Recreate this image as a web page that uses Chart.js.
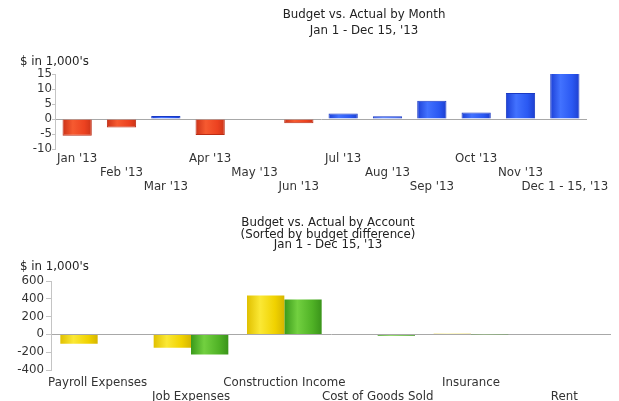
<!DOCTYPE html>
<html>
<head>
<meta charset="utf-8">
<script src="https://cdn.jsdelivr.net/npm/chart.js@4/dist/chart.umd.min.js"></script>
<style>
  body { margin:0; background:#fff; }
  .box { position:absolute; left:0; width:619px; }
</style>
</head>
<body>
<div class="box" style="top:0;height:200px"><canvas id="by_month" width="619" height="200"></canvas></div>
<div class="box" style="top:200px;height:201px"><canvas id="by_account" width="619" height="201"></canvas></div>
<script>
// --- data, $ in 1,000's ---
var monthLabels = ["Jan '13", "Feb '13", "Mar '13", "Apr '13", "May '13", "Jun '13",
                   "Jul '13", "Aug '13", "Sep '13", "Oct '13", "Nov '13", "Dec 1 - 15, '13"];
var monthDiff = [-5.6, -2.8, 1.0, -5.3, 0, -1.4, 1.8, 0.9, 6.1, 2.2, 8.7, 15.5];

var accountLabels = ["Payroll Expenses", "Job Expenses", "Construction Income",
                     "Cost of Goods Sold", "Insurance", "Rent"];
var accountBudget = [-105, -150, 438, 5, 8, -6];
var accountActual = [0, -225, 393, -15, -3, -8];

var monthTicks = [-10, -5, 0, 5, 10, 15];
var accountTicks = [-400, -200, 0, 200, 400, 600];

var FONT = '"DejaVu Sans", sans-serif';
var FSIZE = 11.8;
Chart.defaults.font.family = FONT;
Chart.defaults.font.size = FSIZE;
Chart.defaults.color = '#333';

// labels go on 2 or 3 rows so they dont overlap
function stagger(labels, rows){
	var out = [];
	for(var i=0;i<labels.length;i++){
		var l = [];
		for(var k=0;k<i%rows;k++){ l.push(''); }
		l.push(labels[i]);
		out.push(l);
	}
	return out;
}

// shaded bar fill, built on the bar's own width
function shade(ctx, stops, catPct, barPct, nsets){
	var chart = ctx.chart;
	var xs = chart.scales.x;
	if(!xs || !chart.chartArea){ return stops[1]; }
	var catW = xs.width / xs.getLabels().length;
	var groupW = catW * catPct;
	var barW = groupW / nsets * barPct;
	var c = xs.getPixelForValue(ctx.dataIndex);
	var left = c - groupW/2 + (groupW/nsets)*ctx.datasetIndex + (groupW/nsets - barW)/2;
	var g = chart.ctx.createLinearGradient(left, 0, left + barW, 0);
	g.addColorStop(0, stops[0]);
	g.addColorStop(0.35, stops[1]);
	g.addColorStop(0.75, stops[2]);
	g.addColorStop(1, stops[3]);
	return g;
}

var RED = ['#cc3218', '#f65a30', '#ec4220', '#cc3418'];
var BLUE = ['#1b3fd6', '#4272ff', '#2a58f2', '#1d3fcf'];
var YELLOW = ['#e0c000', '#fbe835', '#f0d200', '#d6b600'];
var GREEN = ['#3a9a1a', '#72d040', '#50b226', '#3a941a'];

var textPlugin = {
	id: 'texts',
	afterDraw: function(chart, args, opts){
		var c = chart.ctx;
		c.save();
		c.fillStyle = '#222';
		c.font = FSIZE + 'px ' + FONT;
		c.textBaseline = 'middle';
		c.textAlign = 'center';
		for(var i=0;i<opts.lines.length;i++){
			c.fillText(opts.lines[i][0], opts.center, opts.lines[i][1]);
		}
		c.textAlign = 'left';
		c.fillText("$ in 1,000's", 20, opts.unitY);
		c.restore();
	}
};

function zeroGrid(ctx){
	return ctx.tick && ctx.tick.value === 0 ? '#a8a8a8' : 'rgba(0,0,0,0)';
}

var ctx1 = document.getElementById('by_month').getContext('2d');
var myChart1 = new Chart(ctx1, {
	type: 'bar',
	data: {
		labels: stagger(monthLabels, 3),
		datasets: [{
			data: monthDiff,
			backgroundColor: function(ctx){
				var v = ctx.raw;
				return shade(ctx, v < 0 ? RED : BLUE, 1, 0.66, 1);
			},
			borderColor: function(ctx){ return ctx.raw < 0 ? '#bb2c14' : '#1a3ac4'; },
			borderWidth: 1,
			barPercentage: 0.66,
			categoryPercentage: 1
		}]
	},
	options: {
		responsive: false,
		animation: false,
		layout: { padding: { top: 74, right: 32, left: 0, bottom: 0 } },
		plugins: {
			legend: { display: false },
			tooltip: { enabled: false },
			texts: {
				center: 364,
				unitY: 62,
				lines: [["Budget vs. Actual by Month", 15], ["Jan 1 - Dec 15, '13", 31]]
			}
		},
		scales: {
			x: {
				grid: { display: false },
				border: { display: false },
				ticks: { autoSkip: false, maxRotation: 0, minRotation: 0, padding: -5,
				         font: { lineHeight: '14px' }, color: '#333' },
				afterFit: function(s){ s.height = 51; }
			},
			y: {
				min: -10, max: 15,
				afterBuildTicks: function(s){ s.ticks = monthTicks.map(function(v){ return {value: v}; }); },
				grid: { color: zeroGrid, tickColor: '#c4c4c4', tickLength: 3 },
				border: { color: '#c4c4c4' },
				ticks: { padding: 0, color: '#333', autoSkip: false },
				afterFit: function(s){ s.width = 55; }
			}
		}
	},
	plugins: [textPlugin]
});

var ctx2 = document.getElementById('by_account').getContext('2d');
var myChart2 = new Chart(ctx2, {
	type: 'bar',
	data: {
		labels: stagger(accountLabels, 2),
		datasets: [{
			label: 'Budget',
			data: accountBudget,
			backgroundColor: function(ctx){ return shade(ctx, YELLOW, 0.8, 1, 2); },
			borderWidth: 0,
			barPercentage: 1,
			categoryPercentage: 0.8
		}, {
			label: 'Actual',
			data: accountActual,
			backgroundColor: function(ctx){ return shade(ctx, GREEN, 0.8, 1, 2); },
			borderWidth: 0,
			barPercentage: 1,
			categoryPercentage: 0.8
		}]
	},
	options: {
		responsive: false,
		animation: false,
		layout: { padding: { top: 81, right: 8, left: 0, bottom: 0 } },
		plugins: {
			legend: { display: false },
			tooltip: { enabled: false },
			texts: {
				center: 328,
				unitY: 67,
				lines: [["Budget vs. Actual by Account", 23], ["(Sorted by budget difference)", 35], ["Jan 1 - Dec 15, '13", 45]]
			}
		},
		scales: {
			x: {
				grid: { display: false },
				border: { display: false },
				ticks: { autoSkip: false, maxRotation: 0, minRotation: 0, padding: -2,
				         font: { lineHeight: '14px' }, color: '#333' },
				afterFit: function(s){ s.height = 31; }
			},
			y: {
				min: -400, max: 600,
				afterBuildTicks: function(s){ s.ticks = accountTicks.map(function(v){ return {value: v}; }); },
				grid: { color: zeroGrid, tickColor: '#c4c4c4', tickLength: 5 },
				border: { color: '#c4c4c4' },
				ticks: { padding: 2, color: '#333', autoSkip: false },
				afterFit: function(s){ s.width = 51; }
			}
		}
	},
	plugins: [textPlugin]
});
</script>
</body>
</html>
